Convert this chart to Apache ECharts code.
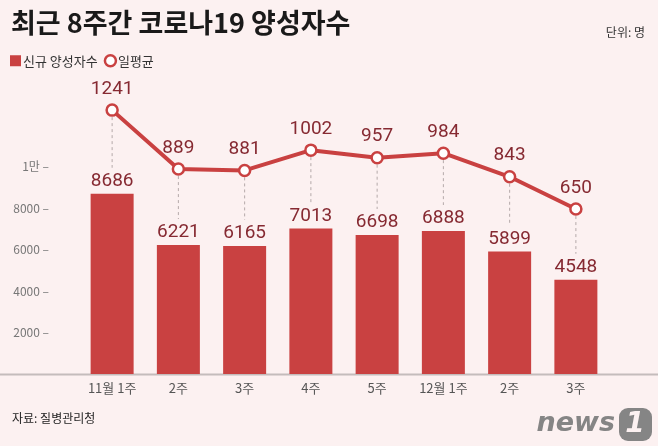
<!DOCTYPE html>
<html>
<head>
<meta charset="utf-8">
<script src="https://cdn.jsdelivr.net/npm/echarts@6/dist/echarts.min.js"></script>
<style>
html,body{margin:0;padding:0;background:#fcf1f1;}
#chart{width:658px;height:446px;}
</style>
</head>
<body>
<div id="chart"></div>
<script>
var categories = ['11월 1주', '2주', '3주', '4주', '5주', '12월 1주', '2주', '3주'];
var newCases = [8686, 6221, 6165, 7013, 6698, 6888, 5899, 4548];
var dailyAvg = [1241, 889, 881, 1002, 957, 984, 843, 650];
var yTicks = {2000: '2000', 4000: '4000', 6000: '6000', 8000: '8000', 10000: '1만'};

var B_MAX = 14000;
var L_MIN = -335, L_MAX = 1400;
var RED = '#c94141';
var LABEL = '#862a32';

// line-axis value -> bar-axis value (both axes share the same grid)
function toBar(v) {
    return (v - L_MIN) / (L_MAX - L_MIN) * B_MAX;
}

var chart = echarts.init(document.getElementById('chart'));
var option = {
    backgroundColor: '#fcf1f1',
    animation: false,
    textStyle: {fontFamily: 'Noto Sans CJK KR'},
    title: [{
        text: '최근 8주간 코로나19 양성자수',
        left: 6, top: 4,
        textStyle: {fontSize: 27, fontWeight: 'bold', color: '#1a1a1a', fontFamily: 'Noto Sans CJK KR'}
    }, {
        text: '단위: 명',
        right: 8, top: 21,
        textStyle: {fontSize: 12, fontWeight: 'normal', color: '#333'}
    }, {
        text: '자료: 질병관리청',
        left: 7, top: 407,
        textStyle: {fontSize: 12, fontWeight: 'normal', color: '#222'}
    }],
    legend: {
        left: 5, top: 49,
        itemWidth: 11, itemHeight: 11, itemGap: 6,
        textStyle: {fontSize: 13, color: '#333', padding: [0, 0, 0, -3]},
        data: [
            {name: '신규 양성자수', icon: 'rect', itemStyle: {color: RED}},
            {name: '일평균', icon: 'circle', itemStyle: {color: '#fff', borderColor: RED, borderWidth: 2.5}}
        ]
    },
    grid: {left: 79, right: 49, top: 83.5, bottom: 72},
    xAxis: {
        type: 'category',
        data: categories,
        axisLine: {show: false},
        axisTick: {show: false},
        axisLabel: {color: '#555', fontSize: 13, margin: 8}
    },
    yAxis: [{
        type: 'value', min: 0, max: B_MAX, interval: 2000,
        splitLine: {show: false},
        axisLine: {show: false},
        axisTick: {show: false},
        axisLabel: {
            color: '#777', fontSize: 12, margin: 30,
            formatter: function (v) { return yTicks[v] ? yTicks[v] + ' –' : ''; }
        }
    }, {
        type: 'value', min: L_MIN, max: L_MAX,
        show: false
    }],
    series: [{
        name: '신규 양성자수',
        type: 'bar',
        data: newCases,
        barWidth: 43,
        itemStyle: {color: RED},
        label: {show: true, position: 'top', distance: 3, color: LABEL, fontSize: 19, fontFamily: 'Roboto'},
        z: 2
    }, {
        type: 'custom',
        data: categories.map(function (c, i) { return [i, toBar(dailyAvg[i]), newCases[i]]; }),
        renderItem: function (params, api) {
            var p = api.coord([api.value(0), api.value(1)]);
            var b = api.coord([api.value(0), api.value(2)]);
            return {
                type: 'line',
                shape: {x1: p[0], y1: p[1] + 7, x2: b[0], y2: b[1] - 26},
                style: {stroke: '#b5aaaa', lineWidth: 1, lineDash: [3, 3]}
            };
        },
        silent: true,
        z: 1
    }, {
        name: '일평균',
        type: 'line',
        yAxisIndex: 1,
        data: dailyAvg,
        symbol: 'circle',
        symbolSize: 11,
        lineStyle: {color: RED, width: 4},
        itemStyle: {color: '#fff', borderColor: RED, borderWidth: 2.5},
        label: {show: true, position: 'top', distance: 5, color: LABEL, fontSize: 19, fontFamily: 'Roboto'},
        z: 3
    }],
    graphic: [{
        type: 'line',
        shape: {x1: 0, y1: 374.5, x2: 658, y2: 374.5},
        style: {stroke: '#c4bcbc', lineWidth: 2}
    }, {
        type: 'text',
        x: 615, y: 424,
        style: {text: 'news', fill: '#858585', font: 'italic bold 27px "DejaVu Sans"', textAlign: 'right', textVerticalAlign: 'middle'}
    }, {
        type: 'rect',
        x: 619, y: 408,
        shape: {width: 33, height: 33, r: 9},
        style: {fill: '#858585'}
    }, {
        type: 'text',
        x: 635, y: 425,
        style: {text: '1', fill: '#fcf1f1', font: 'italic bold 28px "DejaVu Sans"', textAlign: 'center', textVerticalAlign: 'middle'}
    }]
};
chart.setOption(option);
</script>
</body>
</html>
